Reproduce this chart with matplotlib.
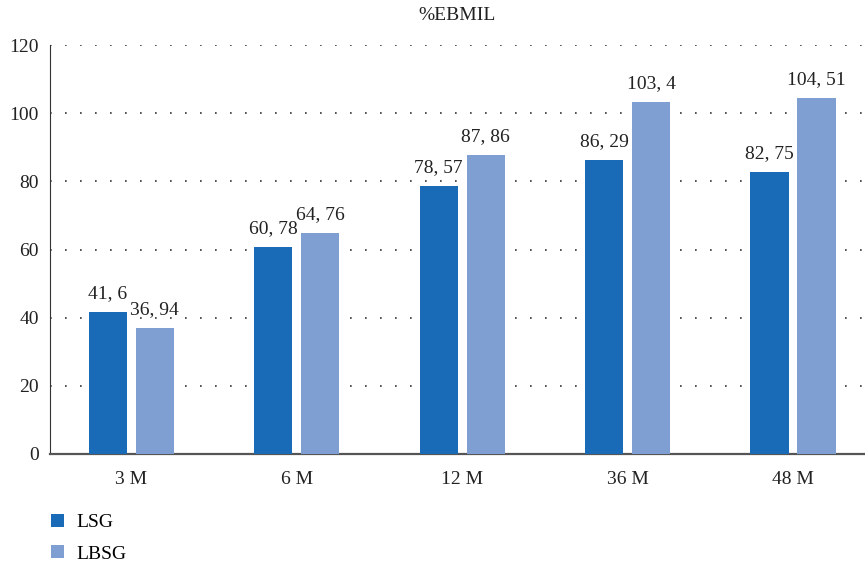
import numpy as np
import matplotlib.pyplot as plt

plt.rcParams['font.family'] = ['Liberation Serif', 'DejaVu Serif']
plt.rcParams['font.size'] = 14

categories = ["3 M", "6 M", "12 M", "36 M", "48 M"]
lsg = [41.6, 60.78, 78.57, 86.29, 82.75]
lbsg = [36.94, 64.76, 87.86, 103.4, 104.51]
lsg_labels = ["41, 6", "60, 78", "78, 57", "86, 29", "82, 75"]
lbsg_labels = ["36, 94", "64, 76", "87, 86", "103, 4", "104, 51"]

c_lsg = "#1a6bb7"
c_lbsg = "#7f9ed2"

fig = plt.figure(figsize=(8.65, 5.67), dpi=100)
ax = fig.add_axes([0.0578, 0.1993, 0.9422, 0.7213])

x = np.arange(len(categories))
w = 0.23
off = 0.142
b1 = ax.bar(x - off, lsg, w, color=c_lsg, label="LSG", zorder=3)
b2 = ax.bar(x + off, lbsg, w, color=c_lbsg, label="LBSG", zorder=3)

for bars, labs in [(b1, lsg_labels), (b2, lbsg_labels)]:
    for r, t in zip(bars, labs):
        ax.annotate(t, (r.get_x() + r.get_width() / 2, r.get_height()),
                    xytext=(0, 7), textcoords="offset points",
                    ha="center", va="bottom", color="#222222")

ax.set_xlim(-0.49, 4.435)
ax.set_ylim(0, 120)
ax.set_yticks(range(0, 121, 20))
ax.set_xticks(x)
ax.set_xticklabels(categories)
ax.tick_params(length=0, pad=8, colors="#222222")
ax.tick_params(axis="x", pad=12)

ax.yaxis.grid(True, linestyle=(0, (1, 8)), color="#333333", linewidth=1.2, zorder=0)
for s in ["top", "right"]:
    ax.spines[s].set_visible(False)
ax.spines["left"].set_color("#333333")
ax.spines["bottom"].set_color("#555555")
ax.spines["bottom"].set_linewidth(1.6)

ax.set_title("%EBMIL", fontsize=14, pad=18, color="#222222")

fig.legend(handles=[b1, b2], loc="upper left", bbox_to_anchor=(0.05, 0.108),
           frameon=False, handlelength=0.65, handleheight=0.65,
           labelspacing=0.75, handletextpad=0.65, borderaxespad=0)

fig.savefig("out.png", dpi=100)
